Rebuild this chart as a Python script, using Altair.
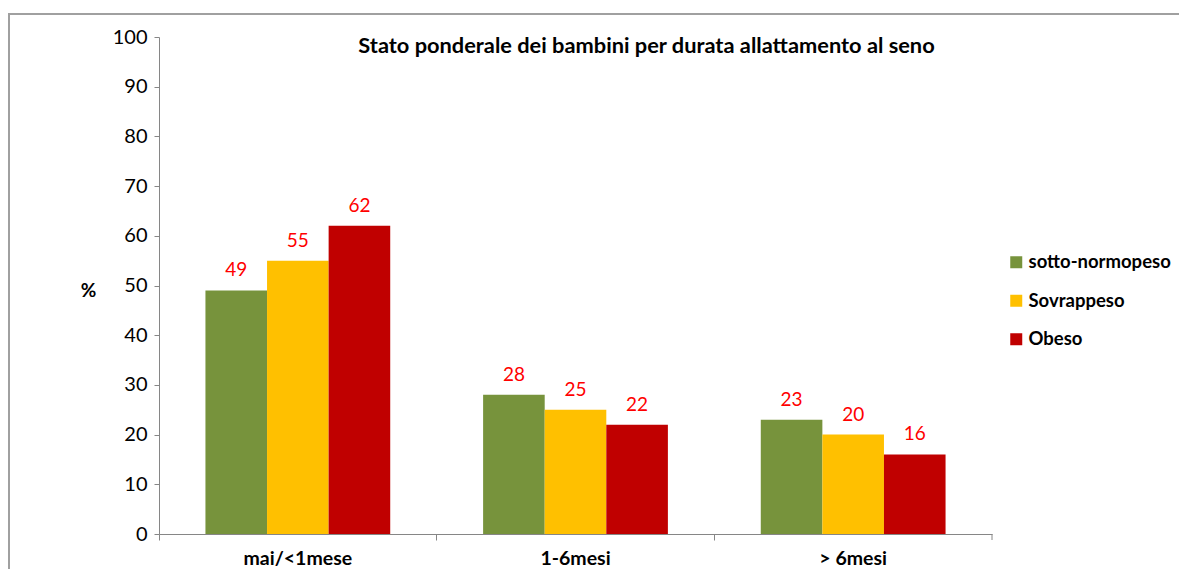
import altair as alt
import pandas as pd

categories = ["mai/<1mese", "1-6mesi", "> 6mesi"]
series = ["sotto-normopeso", "Sovrappeso", "Obeso"]
sotto = [49, 28, 23]
sovra = [55, 25, 20]
obeso = [62, 22, 16]
colors = ["#77933C", "#FFC000", "#C00000"]
y_ticks = list(range(0, 101, 10))
title_text = "Stato ponderale dei bambini  per durata allattamento al seno"

rows = []
for s, vals in zip(series, [sotto, sovra, obeso]):
    for c, v in zip(categories, vals):
        rows.append({"durata": c, "stato": s, "valore": v})
df = pd.DataFrame(rows)
one = pd.DataFrame({"k": [0]})

W, H = 833, 497
FONT = "Lato"
GREY = "#868686"

x = alt.X(
    "durata:N", sort=categories, title=None,
    scale=alt.Scale(paddingInner=0, paddingOuter=0),
    axis=alt.Axis(labelAngle=0, labelFontWeight="bold", labelFontSize=19.5, labelColor="black",
                  labelFont=FONT, labelPadding=9, tickSize=6, bandPosition=0,
                  domainColor=GREY, tickColor=GREY, grid=False),
)
xoff = alt.XOffset("stato:N", sort=series, scale=alt.Scale(paddingInner=0, paddingOuter=0.754))
y = alt.Y(
    "valore:Q", scale=alt.Scale(domain=[0, 100], nice=False),
    axis=alt.Axis(values=y_ticks, grid=False, title="%", titleAngle=0, titleX=-71, titleY=253,
                  titleFontWeight="bold", titleFontSize=19, titleFont=FONT, titleColor="black",
                  titleAlign="center", titleBaseline="middle",
                  labelFontSize=20, labelFont=FONT, labelColor="black", labelPadding=7, tickSize=5,
                  domainColor=GREY, tickColor=GREY),
)
color = alt.Color(
    "stato:N", sort=series, scale=alt.Scale(domain=series, range=colors),
    legend=alt.Legend(title=None, orient="none", legendX=848, legendY=216, symbolType="square",
                      symbolSize=144, symbolStrokeWidth=0, symbolOpacity=1, labelFontSize=18.5,
                      labelFontWeight="bold", labelFont=FONT, labelColor="black", rowPadding=19.5,
                      labelOffset=3),
)

bars = alt.Chart(df).mark_bar().encode(x=x, xOffset=xoff, y=y, color=color)
labels = alt.Chart(df).mark_text(color="#FF0000", fontSize=19, baseline="alphabetic", dy=-14, font=FONT).encode(
    x=alt.X("durata:N", sort=categories),
    xOffset=alt.XOffset("stato:N", sort=series),
    y=alt.Y("valore:Q"),
    text="valore:Q",
)
end_tick = alt.Chart(one).mark_rule(color=GREY).encode(
    x=alt.value(W), y=alt.value(H), y2=alt.value(H + 6)
)
border = alt.Chart(one).mark_rect(fillOpacity=0, stroke="#A0A0A0", strokeWidth=2).encode(
    x=alt.value(-150), x2=alt.value(W + 250), y=alt.value(-23), y2=alt.value(H + 100)
)

chart = alt.layer(border, bars, labels, end_tick).properties(
    width=W, height=H,
    autosize=alt.AutoSizeParams(type="none"),
    padding={"left": 151, "top": 29, "right": 187, "bottom": 35},
    title=alt.TitleParams(title_text, anchor="middle", dx=71, dy=55, offset=0, baseline="middle",
                          fontSize=21.8, fontWeight="bold", font=FONT, color="black"),
).configure(background="white").configure_view(stroke=None)

chart.save("out.html", embed_options={"renderer": "svg", "actions": False})
